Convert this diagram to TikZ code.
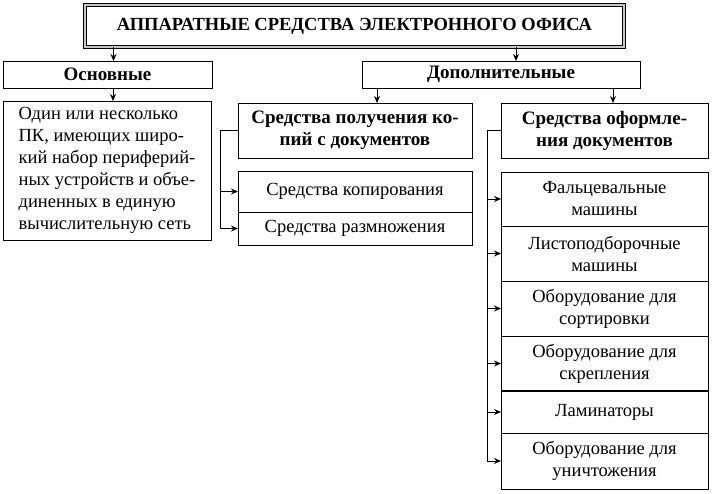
\documentclass[tikz,border=0pt]{standalone}
\usepackage{fontspec}
\setmainfont{Liberation Serif}
\usetikzlibrary{arrows.meta,positioning}

\tikzset{
	box/.style={draw, line width=0.9pt, outer sep=0pt, inner sep=2pt, align=center, font=\fontsize{18.5}{22}\selectfont},
	head/.style={box, font=\fontsize{19}{22}\selectfont\bfseries},
	arr/.style={-{Stealth[length=7pt,width=6pt]}, line width=0.8pt},
}

\begin{document}
\begin{tikzpicture}[x=1pt,y=-1pt]
	\useasboundingbox (0,0) rectangle (712,493);
	% top level
	\node[head, font=\fontsize{18.5}{22}\selectfont\bfseries, draw=black, double=gray!45, double distance=1.6pt, line width=0.8pt, minimum width=539pt, minimum height=42pt] (title) at (354.5,26) {АППАРАТНЫЕ СРЕДСТВА ЭЛЕКТРОННОГО ОФИСА};
	\node[head, minimum width=209pt, minimum height=27pt] (osn) at (107.5,74.5) {Основные};
	\node[head, minimum width=278pt, minimum height=27pt] (dop) at (501,74.5) {Дополнительные};
	\draw[arr] ([xshift=6pt]osn.north |- title.south) -- ([xshift=6pt]osn.north);
	\draw[arr] ([xshift=15pt]dop.north |- title.south) -- ([xshift=15pt]dop.north);
	% basic
	\node[box, align=left, minimum width=208pt, minimum height=139pt] (pk) at (107,170.5) {Один или несколько\\ПК, имеющих широ-\\кий набор периферий-\\ных устройств и объе-\\диненных в единую\\вычислительную сеть};
	\draw[arr] ([xshift=6pt]pk.north |- osn.south) -- ([xshift=6pt]pk.north);
	% copies
	\node[head, minimum width=234pt, minimum height=55pt] (pol) at (355,130.5) {Средства получения ко-\\пий с документов};
	\node[box, minimum width=234pt, minimum height=41pt] (kop) at (355,191.5) {Средства копирования};
	\node[box, minimum width=234pt, minimum height=33pt, below=0pt of kop] (razm) {Средства размножения};
	\draw[arr] ([xshift=22pt]pol.north |- dop.south) -- ([xshift=22pt]pol.north);
	\draw[arr] (pol.west) -| ([xshift=-18pt]razm.west) -- (razm.west);
	\draw[arr] ([xshift=-18pt]kop.west) -- (kop.west);
	% documents
	\node[head, minimum width=207pt, minimum height=55pt] (ofo) at (604.5,130.5) {Средства оформле-\\ния документов};
	\node[box, minimum width=207pt, minimum height=54pt] (fal) at (604.5,199) {Фальцевальные\\машины};
	\node[box, minimum width=207pt, minimum height=55pt, below=0pt of fal] (list) {Листоподборочные\\машины};
	\node[box, minimum width=207pt, minimum height=55pt, below=0pt of list] (sort) {Оборудование для\\сортировки};
	\node[box, minimum width=207pt, minimum height=55pt, below=0pt of sort] (skr) {Оборудование для\\скрепления};
	\node[box, minimum width=207pt, minimum height=42pt, below=0pt of skr] (lam) {Ламинаторы};
	\node[box, minimum width=207pt, minimum height=56pt, below=0pt of lam] (uni) {Оборудование для\\уничтожения};
	\draw[line width=1.8pt] (skr.south west) -- (skr.south east);
	\draw[arr] ([xshift=8.5pt]ofo.north |- dop.south) -- ([xshift=8.5pt]ofo.north);
	\draw[arr] (ofo.west) -| ([xshift=-14pt]uni.west) -- (uni.west);
	\foreach \n in {fal,list,sort,skr,lam}
		\draw[arr] ([xshift=-14pt]\n.west) -- (\n.west);
\end{tikzpicture}
\end{document}
